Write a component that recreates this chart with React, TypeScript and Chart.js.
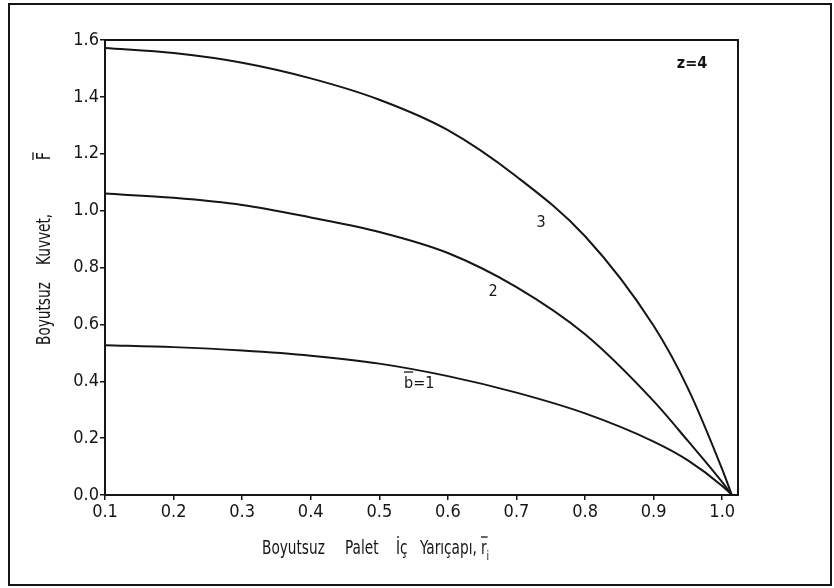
import { useEffect, useRef } from "react";
import { Chart, registerables } from "chart.js";

Chart.register(...registerables);

// Dimensionless inner pallet radius r̄i
const rBar = [0.1, 0.2, 0.3, 0.4, 0.5, 0.6, 0.7, 0.8, 0.9, 0.95, 1.0, 1.014];
// Dimensionless force F̄ for b̄ = 1, 2, 3 (z = 4)
const F_b1 = [0.527, 0.52, 0.508, 0.49, 0.462, 0.418, 0.36, 0.287, 0.188, 0.122, 0.032, 0];
const F_b2 = [1.06, 1.045, 1.02, 0.976, 0.925, 0.851, 0.731, 0.565, 0.33, 0.19, 0.045, 0];
const F_b3 = [1.572, 1.554, 1.52, 1.465, 1.39, 1.283, 1.12, 0.91, 0.595, 0.375, 0.09, 0];

const xTicks = [0.1, 0.2, 0.3, 0.4, 0.5, 0.6, 0.7, 0.8, 0.9, 1.0];
const yTicks = [0, 0.2, 0.4, 0.6, 0.8, 1.0, 1.2, 1.4, 1.6];
const xMin = 0.1;
const xMax = 1.023;
const yMin = 0;
const yMax = 1.6;

const xTitleWords = ["Boyutsuz", "Palet", "İç", "Yarıçapı,"];
const yTitleWords = ["Boyutsuz", "Kuvvet,"];
const zLabel = "z=4";
const seriesLabels = ["b̄=1", "2", "3"];

const FONT = '"DejaVu Sans Condensed", "DejaVu Sans", sans-serif';
const INK = "#151515";
const SQUEEZE = 0.8;

function narrowText(ctx: CanvasRenderingContext2D, text: string, x: number, y: number) {
  ctx.save();
  ctx.translate(x, y);
  ctx.scale(SQUEEZE, 1);
  ctx.fillText(text, 0, 0);
  ctx.restore();
  return ctx.measureText(text).width * SQUEEZE;
}

const overlay = {
  id: "overlay",
  afterDraw(chart: any) {
    const ctx = chart.ctx as CanvasRenderingContext2D;
    const { left, top, right, bottom } = chart.chartArea;
    ctx.save();
    ctx.strokeStyle = INK;
    ctx.fillStyle = INK;
    // outer frame
    ctx.lineWidth = 2;
    ctx.strokeRect(9, 4, 822, 581);
    // plot box
    ctx.strokeRect(left, top, right - left, bottom - top);

    // x title
    ctx.font = `19px ${FONT}`;
    ctx.textBaseline = "middle";
    ctx.textAlign = "left";
    const xPos = [262, 345, 396, 420];
    const y = 549;
    xTitleWords.forEach((w, i) => narrowText(ctx, w, xPos[i], y));
    const rx = 481;
    const rw = narrowText(ctx, "r", rx, y);
    ctx.lineWidth = 1.3;
    ctx.beginPath();
    ctx.moveTo(rx, y - 12);
    ctx.lineTo(rx + rw + 1, y - 12);
    ctx.stroke();
    ctx.font = `13px ${FONT}`;
    narrowText(ctx, "i", rx + rw, y + 8);

    // y title (rotated)
    ctx.save();
    ctx.translate(45, 345);
    ctx.rotate(-Math.PI / 2);
    ctx.font = `19px ${FONT}`;
    ctx.textAlign = "left";
    ctx.textBaseline = "middle";
    const yPos = [0, 80];
    yTitleWords.forEach((w, i) => narrowText(ctx, w, yPos[i], 0));
    const fx = 185;
    const fw = narrowText(ctx, "F", fx, 0);
    ctx.lineWidth = 1.3;
    ctx.beginPath();
    ctx.moveTo(fx, -12);
    ctx.lineTo(fx + fw, -12);
    ctx.stroke();
    ctx.restore();

    // curve labels
    ctx.font = `16px ${FONT}`;
    ctx.textAlign = "center";
    ctx.textBaseline = "middle";
    ctx.fillText(seriesLabels[2], 541, 223);
    ctx.fillText(seriesLabels[1], 493, 292);
    // b̄=1 drawn with a manual bar
    const bText = seriesLabels[0].replace("\u0304", "");
    ctx.textAlign = "left";
    ctx.fillText(bText, 404, 384);
    const bw = ctx.measureText("b").width;
    ctx.lineWidth = 1.3;
    ctx.beginPath();
    ctx.moveTo(404, 372);
    ctx.lineTo(404 + bw, 372);
    ctx.stroke();

    ctx.font = `bold 16px ${FONT}`;
    ctx.textAlign = "center";
    ctx.fillText(zLabel, 692, 64);
    ctx.restore();
  },
};

const mk = (ys: number[]) => ({
  data: rBar.map((r, i) => ({ x: r, y: ys[i] })),
  borderColor: INK,
  borderWidth: 2,
  pointRadius: 0,
  fill: false,
  cubicInterpolationMode: "monotone" as const,
});

export default function App() {
  const ref = useRef<HTMLCanvasElement>(null);
  useEffect(() => {
    if (!ref.current) return;
    const chart = new Chart(ref.current, {
      type: "line",
      data: {
        datasets: [mk(F_b1), mk(F_b2), mk(F_b3)],
      },
      options: {
        animation: false,
        responsive: false,
        maintainAspectRatio: false,
        layout: { padding: { left: 0, top: 40, right: 96, bottom: 0 } },
        plugins: { legend: { display: false }, tooltip: { enabled: false } },
        scales: {
          x: {
            type: "linear",
            min: xMin,
            max: xMax,
            afterBuildTicks: (s: any) => {
              s.ticks = xTicks.map((v) => ({ value: v }));
            },
            afterFit: (s: any) => {
              s.height = 93;
            },
            ticks: {
              color: INK,
              font: { family: FONT, size: 18 },
              padding: 2,
              maxRotation: 0,
              autoSkip: false,
              callback: (v: any) => Number(v).toFixed(1),
            },
            grid: { drawOnChartArea: false, tickLength: 5, color: INK, lineWidth: 1.5 },
            border: { color: INK, width: 2 },
          },
          y: {
            type: "linear",
            min: yMin,
            max: yMax,
            afterBuildTicks: (s: any) => {
              s.ticks = yTicks.map((v) => ({ value: v }));
            },
            afterFit: (s: any) => {
              s.width = 105;
            },
            ticks: {
              color: INK,
              font: { family: FONT, size: 18 },
              padding: 1,
              autoSkip: false,
              callback: (v: any) => Number(v).toFixed(1),
            },
            grid: { drawOnChartArea: false, tickLength: 5, color: INK, lineWidth: 1.5 },
            border: { color: INK, width: 2 },
          },
        },
      },
      plugins: [overlay],
    });
    return () => chart.destroy();
  }, []);
  return (
    <div style={{ position: "fixed", left: 0, top: 0, width: 834, height: 588, background: "#fff" }}>
      <canvas ref={ref} width={834} height={588} style={{ display: "block" }} />
    </div>
  );
}
